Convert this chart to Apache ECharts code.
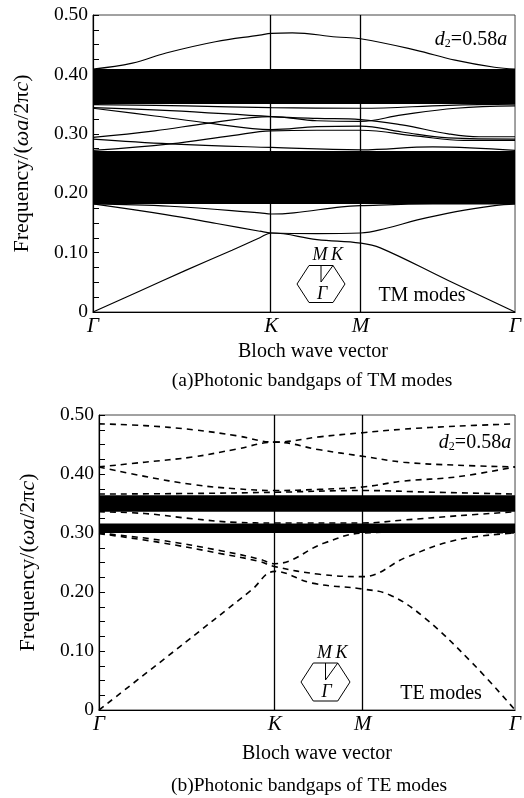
<!DOCTYPE html>
<html>
<head>
<meta charset="utf-8">
<script src="https://cdn.jsdelivr.net/npm/echarts@6/dist/echarts.min.js"></script>
<style>
html,body{margin:0;padding:0;background:#fff}
#main{width:524px;height:798px}
</style>
</head>
<body>
<div id="main"></div>
<script>
// k-path positions (Gamma-K-M-Gamma, hexagonal lattice, |Gamma M| = 1)
var K = 1.1547, M = 1.7321, G = 2.7321;
var kPoints = [0, K, M, G];
var kLabels = ['Γ', 'K', 'M', 'Γ'];

// TM modes (solid lines), [k, frequency]
var tm1 = [[0,0],[0.3,0.035],[0.6,0.07],[0.9,0.104],[1.08,0.125],[K,0.133],[1.45,0.122],[M,0.116],[1.86,0.108],[2.3,0.053],[G,0]];
var tm2 = [[0,0.182],[0.47,0.164],[0.8,0.149],[1.08,0.136],[K,0.133],[1.45,0.132],[M,0.133],[1.9,0.141],[2.1,0.155],[2.35,0.169],[2.6,0.179],[G,0.182]];
var tm3 = [[0,0.182],[0.5,0.178],[1.08,0.167],[K,0.165],[1.3,0.167],[1.61,0.177],[M,0.179],[2.2,0.182],[G,0.182]];
var tm4 = [[0,0.291],[0.5,0.283],[K,0.277],[M,0.273],[2.2,0.278],[G,0.272]];
var tm5 = [[0,0.272],[0.5,0.283],[0.9,0.297],[K,0.305],[1.45,0.306],[M,0.306],[2.1,0.296],[2.4,0.289],[G,0.289]];
var tm6 = [[0,0.294],[0.4,0.305],[0.75,0.318],[K,0.329],[1.45,0.322],[M,0.321],[2.0,0.332],[2.35,0.343],[G,0.347]];
var tm7 = [[0,0.343],[0.4,0.330],[0.75,0.318],[K,0.307],[1.45,0.312],[M,0.313],[2.0,0.303],[2.3,0.293],[G,0.291]];
var tm8 = [[0,0.344],[0.5,0.339],[K,0.329],[1.45,0.326],[M,0.324],[2.0,0.315],[2.3,0.300],[2.5,0.295],[G,0.295]];
var tm9 = [[0,0.349],[0.6,0.347],[K,0.344],[M,0.343],[2.3,0.348],[G,0.350]];
var tm10 = [[0,0.409],[0.255,0.419],[0.473,0.436],[0.792,0.455],[1.079,0.466],[K,0.469],[1.29,0.470],[1.577,0.463],[M,0.460],[2.088,0.441],[2.344,0.424],[2.599,0.412],[G,0.409]];
var tmGaps = [[0.182, 0.271], [0.350, 0.409]];

// TE modes (dashed lines)
var te1 = [[0,0],[0.5,0.101],[1.0,0.203],[K,0.235],[1.4,0.215],[M,0.205],[1.91,0.195],[2.13,0.158],[2.45,0.08],[G,0]];
var te2 = [[0,0.299],[0.4,0.284],[0.8,0.265],[1.05,0.252],[K,0.243],[1.45,0.230],[M,0.226],[2.02,0.259],[2.345,0.288],[G,0.300]];
var te3 = [[0,0.300],[0.4,0.288],[0.8,0.270],[1.05,0.256],[K,0.248],[1.48,0.283],[M,0.300],[2.2,0.302],[G,0.300]];
var te4 = [[0,0.336],[0.3,0.333],[0.62,0.324],[0.9,0.318],[K,0.317],[M,0.317],[2.0,0.322],[2.345,0.329],[G,0.336]];
var te5 = [[0,0.366],[0.6,0.367],[K,0.369],[M,0.372],[2.2,0.369],[G,0.366]];
var te6 = [[0,0.412],[0.3,0.396],[0.62,0.382],[0.9,0.375],[K,0.372],[1.45,0.374],[M,0.378],[2.0,0.388],[2.345,0.395],[G,0.412]];
var te7 = [[0,0.412],[0.3,0.420],[0.62,0.429],[0.9,0.442],[K,0.454],[1.45,0.441],[M,0.430],[2.0,0.420],[2.345,0.415],[G,0.412]];
var te8 = [[0,0.485],[0.3,0.482],[0.62,0.475],[0.9,0.465],[K,0.454],[1.45,0.463],[M,0.470],[2.0,0.476],[2.345,0.481],[G,0.485]];
var teGaps = [[0.300, 0.316], [0.336, 0.364]];

var FONT = "'Liberation Serif','Times New Roman',serif";

function kName(v) {
  for (var i = 0; i < kPoints.length; i++) {
    if (Math.abs(v - kPoints[i]) < 0.01) return kLabels[i];
  }
  return '';
}

function xAxisFor(idx) {
  return {
    gridIndex: idx, type: 'value', min: 0, max: G,
    axisLine: {show: true, lineStyle: {color: '#000', width: 1.2}},
    axisTick: {show: false},
    splitLine: {show: false},
    axisLabel: {
      customValues: kPoints, showMinLabel: true, showMaxLabel: true,
      formatter: kName, fontFamily: FONT, fontStyle: 'italic', fontSize: 21,
      color: '#000', margin: 4
    }
  };
}

function yAxisFor(idx) {
  return {
    gridIndex: idx, type: 'value', min: 0, max: 0.5, interval: 0.1,
    axisLine: {show: true, lineStyle: {color: '#000', width: 1.2}},
    axisTick: {show: true, inside: true, length: 6, lineStyle: {color: '#000'}},
    minorTick: {show: true, splitNumber: 4, length: 6, lineStyle: {color: '#000'}},
    splitLine: {show: false},
    axisLabel: {
      formatter: function (v) { return v === 0 ? '0' : v.toFixed(2); },
      fontFamily: FONT, fontSize: 19.5, color: '#000', margin: 5
    },
    name: '{n|Frequency/(}{i|ωa}{n|/2π}{i|c}{n|)}',
    nameLocation: 'middle', nameRotate: 90, nameGap: 60,
    nameTextStyle: {
      rich: {
        n: {fontFamily: FONT, fontSize: 22, color: '#000'},
        i: {fontFamily: FONT, fontSize: 22, color: '#000', fontStyle: 'italic'}
      }
    }
  };
}

function band(data, idx, dashed) {
  return {
    type: 'line', xAxisIndex: idx, yAxisIndex: idx, data: data,
    smooth: 0.4, showSymbol: false, silent: true,
    lineStyle: dashed ? {color: '#000', width: 1.6, type: [6, 5]} : {color: '#000', width: 1.2}
  };
}

function withMarks(s, gaps) {
  s.markArea = {
    silent: true,
    itemStyle: {color: '#000', opacity: 1},
    data: gaps.map(function (g) { return [{yAxis: g[0]}, {yAxis: g[1]}]; })
  };
  s.markLine = {
    silent: true, symbol: ['none', 'none'], label: {show: false},
    lineStyle: {color: '#000', width: 1.3, type: 'solid'},
    data: [{xAxis: K}, {xAxis: M}]
  };
  return s;
}

var series = [];
[tm1, tm2, tm3, tm4, tm5, tm6, tm7, tm8, tm9, tm10].forEach(function (d, i) {
  var s = band(d, 0, false);
  if (i === 0) withMarks(s, tmGaps);
  series.push(s);
});
[te1, te2, te3, te4, te5, te6, te7, te8].forEach(function (d, i) {
  var s = band(d, 1, true);
  if (i === 0) withMarks(s, teGaps);
  series.push(s);
});

function txt(str, x, y, size, italic) {
  return {
    type: 'text', x: x, y: y, silent: true,
    style: {
      text: str, fill: '#000', align: 'center', verticalAlign: 'middle',
      font: (italic ? 'italic ' : '') + size + 'px ' + FONT
    }
  };
}

function dLabel(x, y) {
  return {
    type: 'text', x: x, y: y, silent: true,
    style: {
      text: '{i|d}{s|2}{n|=0.58}{i|a}', align: 'center', verticalAlign: 'middle',
      rich: {
        i: {fontFamily: FONT, fontSize: 20, fontStyle: 'italic', fill: '#000'},
        n: {fontFamily: FONT, fontSize: 20, fill: '#000'},
        s: {fontFamily: FONT, fontSize: 12, fill: '#000', verticalAlign: 'bottom'}
      }
    }
  };
}

function inset(cx, cy, rx, ry) {
  var pts = [[cx - rx, cy], [cx - rx / 2, cy - ry], [cx + rx / 2, cy - ry], [cx + rx, cy], [cx + rx / 2, cy + ry], [cx - rx / 2, cy + ry]];
  var gy = cy - 2;
  return [
    {type: 'polygon', silent: true, shape: {points: pts}, style: {fill: 'none', stroke: '#000', lineWidth: 1}},
    {type: 'polyline', silent: true, shape: {points: [[cx, cy - ry], [cx, gy], [cx + rx / 2, cy - ry]]}, style: {fill: 'none', stroke: '#000', lineWidth: 1}},
    txt('M', cx - 1, cy - ry - 10, 18, true),
    txt('K', cx + 16, cy - ry - 10, 18, true),
    txt('Γ', cx + 1, cy + 10, 18, true)
  ];
}

var graphics = [
  txt('Bloch wave vector', 313, 352, 20, false),
  txt('(a)Photonic bandgaps of TM modes', 312, 381, 19.5, false),
  txt('Bloch wave vector', 317, 754, 20, false),
  txt('(b)Photonic bandgaps of TE modes', 309, 786, 19.5, false),
  txt('TM modes', 422, 296, 20, false),
  txt('TE modes', 441, 694, 20, false),
  dLabel(471, 40),
  dLabel(475, 443)
].concat(inset(321, 284, 24, 18.5)).concat(inset(325.5, 682, 24.5, 19));

var chart = echarts.init(document.getElementById('main'));
chart.setOption({
  animation: false,
  backgroundColor: '#fff',
  grid: [
    {left: 93, top: 15, width: 428, height: 297, show: true, borderColor: '#444', borderWidth: 1},
    {left: 99, top: 415, width: 423, height: 295, show: true, borderColor: '#444', borderWidth: 1}
  ],
  xAxis: [xAxisFor(0), xAxisFor(1)],
  yAxis: [yAxisFor(0), yAxisFor(1)],
  series: series,
  graphic: graphics
});
</script>
</body>
</html>
